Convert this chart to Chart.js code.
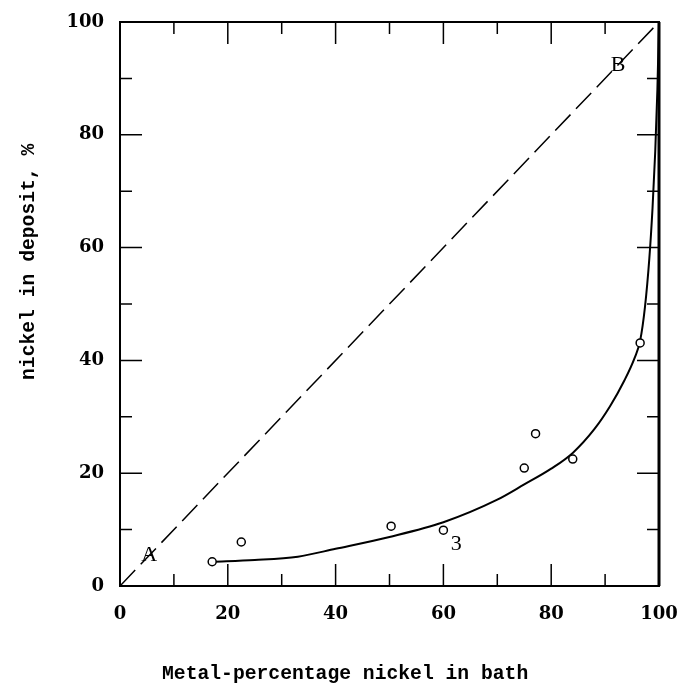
<!DOCTYPE html>
<html>
<head>
<meta charset="utf-8">
<script src="https://cdn.jsdelivr.net/npm/chart.js"></script>
<style>
  html, body { margin: 0; padding: 0; background: #fff; }
  .chart-container { position: relative; width: 685px; height: 683px; }
</style>
</head>
<body>
<div class="chart-container">
    <canvas id="nickel_chart"></canvas>
</div>
<script>
// measured points (circles)
const bathNi = [17.1, 22.5, 50.3, 60, 75, 77.1, 84, 96.5];
const depositNi = [4.3, 7.8, 10.6, 9.9, 20.9, 27, 22.5, 43.1];

// smooth curve through the data
const curveX = [17.1, 25, 33, 40, 50, 60, 70, 75, 80, 84, 88, 91, 93.5, 95.5, 96.5, 97.4, 98.2, 98.8, 99.3, 99.7, 100];
const curveY = [4.3, 4.6, 5.2, 6.6, 8.7, 11.3, 15.3, 18, 20.8, 23.6, 27.8, 32, 36.3, 40.5, 43.5, 49.5, 58, 67, 77, 88, 100];

// A-B line (deposit = bath)
const lineX = [0, 100];
const lineY = [0, 100];

// letters drawn on the plot
const noteText = ['A', 'B', '3'];
const noteX = [5.4, 92.4, 62.4];
const noteY = [5.5, 92.4, 7.4];

const majorTicks = [0, 20, 40, 60, 80, 100];
const minorTicks = [10, 30, 50, 70, 90];

const xTitle = 'Metal-percentage nickel in bath';
const yTitle = 'nickel in deposit, %';

const toXY = (xs, ys) => xs.map((x, i) => ({x: x, y: ys[i]}));

const framePlugin = {
    id: 'frame',
    afterDraw(chart) {
        const {ctx, chartArea: a, scales: {x, y}} = chart;
        ctx.save();
        ctx.strokeStyle = '#000';
        ctx.lineWidth = 2;
        ctx.strokeRect(a.left, a.top, a.right - a.left, a.bottom - a.top);
        ctx.lineWidth = 3;
        ctx.beginPath();
        ctx.moveTo(a.right, a.top); ctx.lineTo(a.right, a.bottom);
        ctx.stroke();
        ctx.lineWidth = 1.5;
        const tick = (v, len) => {
            const px = x.getPixelForValue(v), py = y.getPixelForValue(v);
            ctx.beginPath();
            ctx.moveTo(px, a.bottom); ctx.lineTo(px, a.bottom - len);
            ctx.moveTo(px, a.top); ctx.lineTo(px, a.top + len);
            ctx.moveTo(a.left, py); ctx.lineTo(a.left + len, py);
            ctx.moveTo(a.right, py); ctx.lineTo(a.right - len, py);
            ctx.stroke();
        };
        majorTicks.forEach(v => tick(v, 22));
        minorTicks.forEach(v => tick(v, 12));

        ctx.fillStyle = '#000';
        ctx.font = '22px "Liberation Serif"';
        ctx.textAlign = 'center';
        ctx.textBaseline = 'middle';
        noteText.forEach((t, i) => {
            ctx.fillText(t, x.getPixelForValue(noteX[i]), y.getPixelForValue(noteY[i]));
        });

        ctx.font = 'bold 19.7px "Liberation Mono"';
        ctx.textAlign = 'left';
        ctx.textBaseline = 'alphabetic';
        ctx.fillText(xTitle, 162, 679);
        ctx.translate(34, 380);
        ctx.rotate(-Math.PI / 2);
        ctx.fillText(yTitle, 0, 0);
        ctx.restore();
    }
};

const tickFont = {family: '"DejaVu Serif"', size: 18, weight: 'bold'};

new Chart(document.getElementById('nickel_chart'), {
    type: 'scatter',
    data: {
        datasets: [
            {
                data: toXY(bathNi, depositNi),
                pointRadius: 4,
                pointBorderWidth: 1.5,
                pointBorderColor: '#000',
                pointBackgroundColor: '#fff',
                order: 0
            },
            {
                type: 'line',
                data: toXY(curveX, curveY),
                borderColor: '#000',
                borderWidth: 2,
                pointRadius: 0,
                cubicInterpolationMode: 'monotone',
                order: 1
            },
            {
                type: 'line',
                data: toXY(lineX, lineY),
                borderColor: '#000',
                borderWidth: 1.5,
                borderDash: [22, 8],
                pointRadius: 0,
                order: 2
            }
        ]
    },
    options: {
        responsive: true,
        maintainAspectRatio: false,
        animation: false,
        layout: {padding: {left: 0, top: 22, right: 26, bottom: 0}},
        plugins: {legend: {display: false}, tooltip: {enabled: false}},
        scales: {
            x: {
                type: 'linear', min: 0, max: 100,
                grid: {display: false, drawTicks: false},
                border: {display: false},
                ticks: {stepSize: 20, color: '#000', font: tickFont, padding: 18, maxRotation: 0},
                afterFit: (s) => { s.height = 97; s.paddingLeft = 0; s.paddingRight = 0; }
            },
            y: {
                type: 'linear', min: 0, max: 100,
                grid: {display: false, drawTicks: false},
                border: {display: false},
                ticks: {stepSize: 20, color: '#000', font: tickFont, padding: 16},
                afterFit: (s) => { s.width = 120; s.paddingTop = 0; s.paddingBottom = 0; }
            }
        }
    },
    plugins: [framePlugin]
});
</script>
</body>
</html>
